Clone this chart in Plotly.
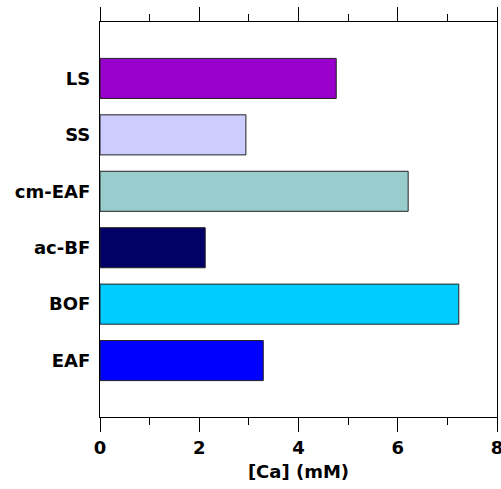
import plotly.graph_objects as go

categories = ["EAF", "BOF", "ac-BF", "cm-EAF", "SS", "LS"]
values = [3.29, 7.23, 2.12, 6.21, 2.94, 4.76]
colors = ["#0000FF", "#00CCFF", "#000066", "#99CCCC", "#CCCCFF", "#9900CC"]
x_ticks = [0, 2, 4, 6, 8]

fig = go.Figure(go.Bar(
    y=categories, x=values, orientation="h",
    marker=dict(color=colors, line=dict(color="#222222", width=1)),
    width=0.71,
))

font = dict(family="DejaVu Sans", size=18, color="black")

fig.update_layout(
    width=501, height=489,
    margin=dict(l=100, r=4, t=22, b=72),
    plot_bgcolor="white", paper_bgcolor="white",
    showlegend=False,
    font=font,
    xaxis=dict(
        range=[0, 8], tickvals=x_ticks, ticktext=[f"<b>{t}</b>" for t in x_ticks],
        ticks="outside", ticklen=14, tickwidth=1.3, tickcolor="black",
        minor=dict(dtick=1, ticks="outside", ticklen=7, tickwidth=1.3, tickcolor="black"),
        showline=True, linecolor="black", linewidth=1.3, mirror="ticks",
        showgrid=False, zeroline=False, ticklabeloverflow="allow", automargin=False,
        title=dict(text="<b>[Ca] (mM)</b>", font=font, standoff=8),
        tickfont=font,
    ),
    yaxis=dict(
        type="category", range=[-1, 6],
        categoryorder="array", categoryarray=categories,
        tickvals=categories, ticktext=[f"<b>{c}</b>" for c in categories],
        ticks="", showline=True, linecolor="black", linewidth=1.3, mirror=True,
        showgrid=False, zeroline=False, ticklabelstandoff=5, automargin=False,
        tickfont=font,
    ),
)

fig.write_html("out.html")
